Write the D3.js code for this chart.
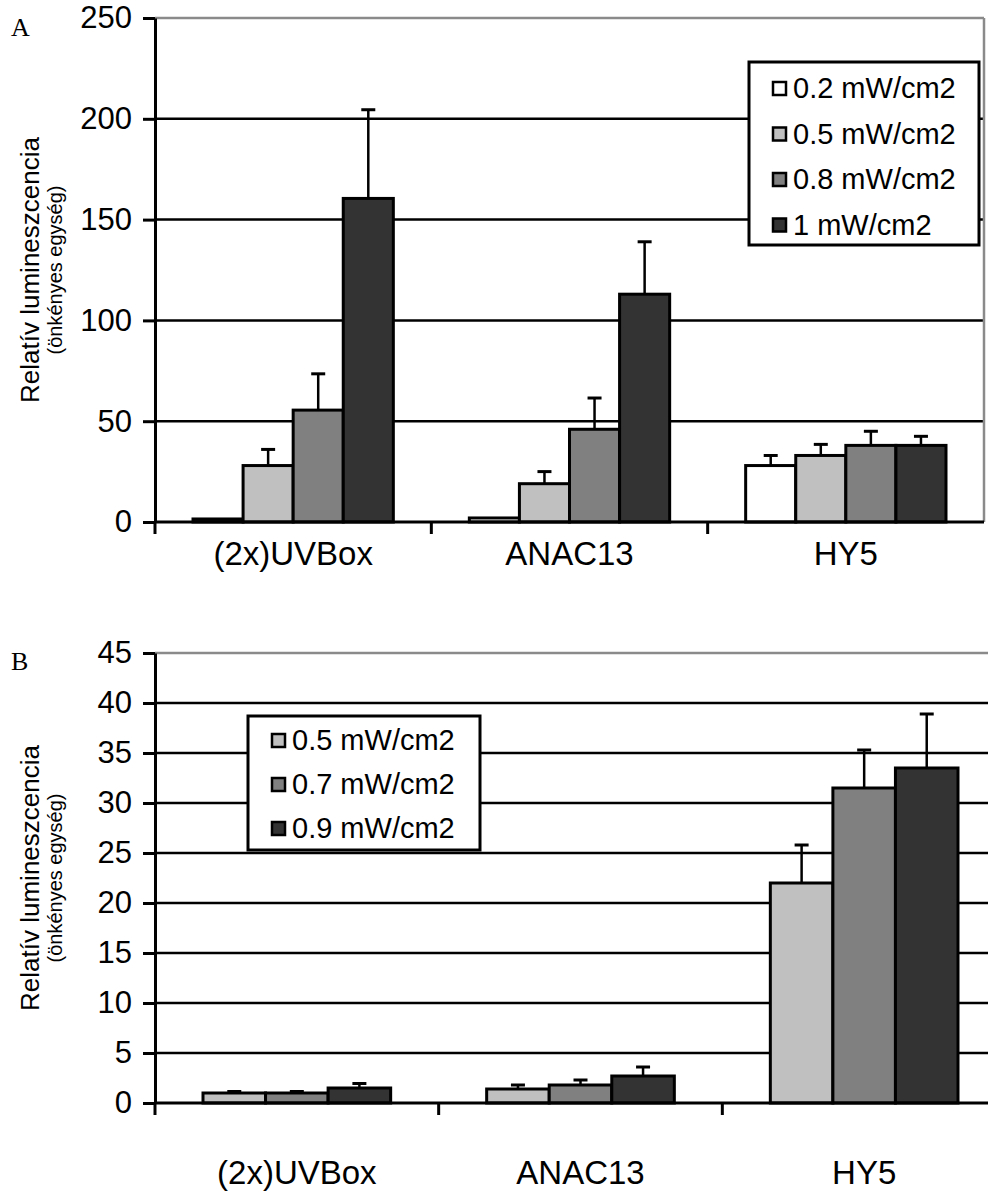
<!DOCTYPE html>
<html>
<head>
<meta charset="utf-8">
<script src="https://cdn.jsdelivr.net/npm/d3@7"></script>
<style>
  body { margin: 0; background: #fff; }
  svg { display: block; font-family: "Liberation Sans", Arial, sans-serif; }
</style>
</head>
<body>
<div id="wrapper"></div>
<script>
// data
const categories = ["(2x)UVBox", "ANAC13", "HY5"]

const seriesA = ["0.2 mW/cm2", "0.5 mW/cm2", "0.8 mW/cm2", "1 mW/cm2"]
const valuesA = [
  [1.5, 28, 55.5, 160.5],
  [2, 19, 46, 113],
  [28, 33, 38, 38],
]
const errorsA = [
  [0, 8, 18, 44],
  [0, 6, 15.5, 26],
  [5, 5.5, 7, 4.5],
]
const ticksA = [0, 50, 100, 150, 200, 250]

const seriesB = ["0.5 mW/cm2", "0.7 mW/cm2", "0.9 mW/cm2"]
const valuesB = [
  [1.0, 1.0, 1.5],
  [1.4, 1.8, 2.7],
  [22, 31.5, 33.5],
]
const errorsB = [
  [0.15, 0.15, 0.45],
  [0.4, 0.5, 0.9],
  [3.8, 3.8, 5.4],
]
const ticksB = [0, 5, 10, 15, 20, 25, 30, 35, 40, 45]

const fillsA = ["#ffffff", "#c0c0c0", "#808080", "#333333"]
const fillsB = ["#c0c0c0", "#808080", "#333333"]

const svg = d3.select("#wrapper")
  .append("svg")
  .attr("width", 988)
  .attr("height", 1192)

function drawPanel(opts) {
  const g = svg.append("g")

  const xScale = d3.scaleBand()
    .domain(categories)
    .range([opts.left, opts.right])

  const yScale = d3.scaleLinear()
    .domain([0, d3.max(opts.ticks)])
    .range([opts.bottom, opts.top])

  const inner = d3.scaleBand()
    .domain(d3.range(opts.series.length))
    .range([opts.pad, xScale.bandwidth() - opts.pad])

  // gridlines
  g.selectAll(".grid")
    .data(opts.ticks.filter(t => t > 0))
    .join("line")
    .attr("x1", opts.left)
    .attr("x2", opts.right)
    .attr("y1", d => yScale(d))
    .attr("y2", d => yScale(d))
    .attr("stroke", (d, i, n) => i === n.length - 1 ? "#8a8a8a" : "#000")
    .attr("stroke-width", 2.5)

  if (opts.rightBorder) {
    g.append("line")
      .attr("x1", opts.right).attr("x2", opts.right)
      .attr("y1", opts.top).attr("y2", opts.bottom)
      .attr("stroke", "#8a8a8a").attr("stroke-width", 2.5)
  }

  // bars
  const groups = g.selectAll(".grp")
    .data(opts.values)
    .join("g")
    .attr("transform", (d, i) => `translate(${xScale(categories[i])},0)`)

  groups.selectAll("rect")
    .data(d => d)
    .join("rect")
    .attr("x", (d, i) => inner(i))
    .attr("width", inner.bandwidth())
    .attr("y", d => yScale(d))
    .attr("height", d => yScale(0) - yScale(d))
    .attr("fill", (d, i) => opts.fills[i])
    .attr("stroke", "#000")
    .attr("stroke-width", 3)

  // error bars (upper only)
  groups.each(function (vals, gi) {
    const errs = opts.errors[gi]
    const eg = d3.select(this)
    vals.forEach((v, i) => {
      if (!errs[i]) return
      const cx = inner(i) + inner.bandwidth() / 2
      eg.append("line")
        .attr("x1", cx).attr("x2", cx)
        .attr("y1", yScale(v)).attr("y2", yScale(v + errs[i]))
        .attr("stroke", "#000").attr("stroke-width", 2.5)
      eg.append("line")
        .attr("x1", cx - 7).attr("x2", cx + 7)
        .attr("y1", yScale(v + errs[i])).attr("y2", yScale(v + errs[i]))
        .attr("stroke", "#000").attr("stroke-width", 3)
    })
  })

  // y axis
  const yAxis = g.append("g")
    .attr("transform", `translate(${opts.left},0)`)
    .call(d3.axisLeft(yScale).tickValues(opts.ticks).tickSize(12).tickPadding(11).tickSizeOuter(0))
  yAxis.select(".domain").attr("stroke-width", 3)
  yAxis.selectAll(".tick line").attr("stroke-width", 3)
  yAxis.selectAll(".tick text")
    .attr("font-size", 31)
    .attr("font-family", "Liberation Sans, Arial, sans-serif")
    .attr("fill", "#000")

  // x axis
  const xAxis = g.append("g")
    .attr("transform", `translate(0,${opts.bottom})`)
  xAxis.append("line")
    .attr("x1", opts.left).attr("x2", opts.right)
    .attr("stroke", "#000").attr("stroke-width", 3)
  xAxis.selectAll(".xtick")
    .data(categories)
    .join("line")
    .attr("x1", d => xScale(d)).attr("x2", d => xScale(d))
    .attr("y1", 0).attr("y2", 12)
    .attr("stroke", "#000").attr("stroke-width", 3)
  xAxis.selectAll(".xlab")
    .data(categories)
    .join("text")
    .attr("x", d => xScale(d) + xScale.bandwidth() / 2)
    .attr("y", opts.labelDy)
    .attr("text-anchor", "middle")
    .attr("font-size", 33)
    .text(d => d)

  // axis title
  const midY = (opts.top + opts.bottom) / 2
  svg.append("text")
    .attr("transform", `translate(39,${midY}) rotate(-90)`)
    .attr("text-anchor", "middle")
    .attr("font-size", 26)
    .text("Relatív lumineszcencia")
  svg.append("text")
    .attr("transform", `translate(62,${midY}) rotate(-90)`)
    .attr("text-anchor", "middle")
    .attr("font-size", 20)
    .text("(önkényes egység)")

  // panel letter
  svg.append("text")
    .attr("x", 11)
    .attr("y", opts.letterY)
    .attr("font-family", "Liberation Serif, Times New Roman, serif")
    .attr("font-size", 26)
    .text(opts.letter)

  // legend
  const lg = svg.append("g")
    .attr("transform", `translate(${opts.legend.x},${opts.legend.y})`)
  lg.append("rect")
    .attr("width", opts.legend.w)
    .attr("height", opts.legend.h)
    .attr("fill", "#fff")
    .attr("stroke", "#000")
    .attr("stroke-width", 3)
  const items = lg.selectAll(".item")
    .data(opts.series)
    .join("g")
    .attr("transform", (d, i) => `translate(24,${opts.legend.first + i * opts.legend.step})`)
  items.append("rect")
    .attr("x", 0).attr("y", -6)
    .attr("width", 13).attr("height", 13)
    .attr("fill", (d, i) => opts.fills[i])
    .attr("stroke", "#000")
    .attr("stroke-width", 2.5)
  items.append("text")
    .attr("x", 20)
    .attr("y", 10)
    .attr("font-size", 29)
    .text(d => d)
}

drawPanel({
  letter: "A", letterY: 36,
  series: seriesA, values: valuesA, errors: errorsA, ticks: ticksA, fills: fillsA,
  left: 155, right: 984, top: 18, bottom: 522, pad: 38, rightBorder: true,
  labelDy: 43,
  legend: { x: 749, y: 62, w: 230, h: 183, first: 26, step: 45.5 },
})

drawPanel({
  letter: "B", letterY: 670,
  series: seriesB, values: valuesB, errors: errorsB, ticks: ticksB, fills: fillsB,
  left: 155, right: 1006, top: 653, bottom: 1103, pad: 48, rightBorder: false,
  labelDy: 81,
  legend: { x: 248, y: 716, w: 232, h: 134, first: 24, step: 44 },
})
</script>
</body>
</html>
